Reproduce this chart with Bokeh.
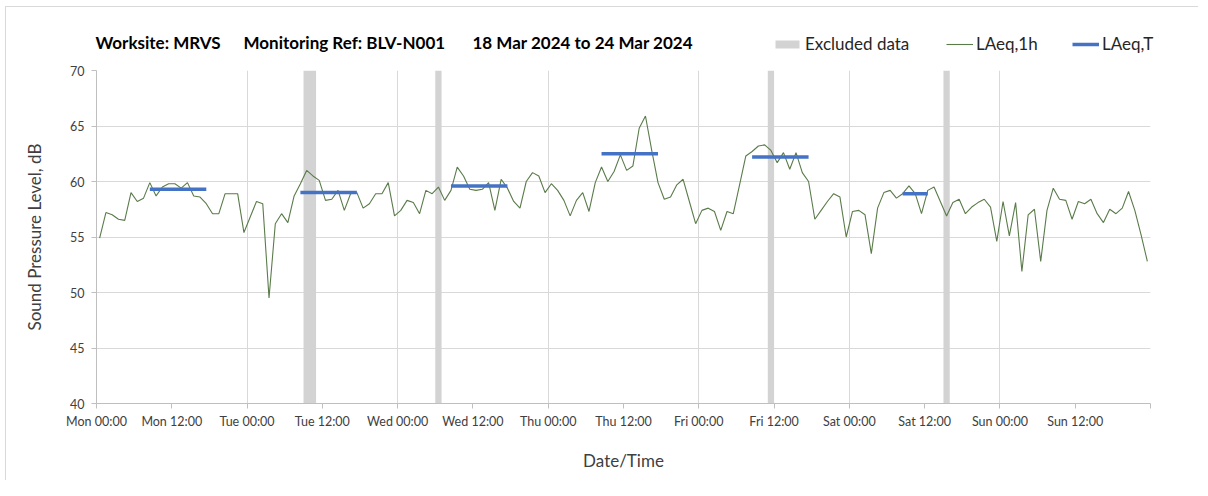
from bokeh.plotting import figure
from bokeh.layouts import column
from bokeh.models import ColumnDataSource, Range1d, FixedTicker, Legend, LegendItem, Label
from bokeh.embed import file_html
from bokeh.resources import INLINE

# ---------------- data ----------------
x_tick_hours = [0, 12, 24, 36, 48, 60, 72, 84, 96, 108, 120, 132, 144, 156, 168]
x_tick_labels = ["Mon 00:00", "Mon 12:00", "Tue 00:00", "Tue 12:00", "Wed 00:00", "Wed 12:00",
                 "Thu 00:00", "Thu 12:00", "Fri 00:00", "Fri 12:00", "Sat 00:00", "Sat 12:00",
                 "Sun 00:00", "Sun 12:00", ""]
day_grid_hours = [24, 48, 72, 96, 120, 144, 168]
y_ticks = [40, 45, 50, 55, 60, 65, 70]

# hourly LAeq,1h (hour 0 = Mon 00:00)
laeq_1h = [
    54.9, 57.2, 57.0, 56.6, 56.5, 59.0, 58.2, 58.5, 59.9, 58.7, 59.5, 59.8,
    59.8, 59.4, 59.9, 58.7, 58.6, 58.0, 57.1, 57.1, 58.9, 58.9, 58.9, 55.4,
    56.8, 58.2, 58.0, 49.5, 56.2, 57.1, 56.3, 58.7, 59.8, 61.0, 60.5, 60.1,
    58.3, 58.4, 59.2, 57.4, 58.9, 59.0, 57.6, 58.0, 58.9, 58.9, 59.9, 56.9,
    57.4, 58.3, 58.1, 57.1, 59.2, 58.9, 59.5, 58.3, 59.2, 61.3, 60.5, 59.3,
    59.2, 59.3, 59.9, 57.4, 60.2, 59.4, 58.2, 57.6, 60.0, 60.8, 60.5, 59.0,
    59.8, 59.2, 58.3, 56.9, 58.3, 59.0, 57.3, 59.9, 61.3, 60.0, 60.9, 62.4,
    61.0, 61.4, 64.8, 65.9, 62.8, 59.9, 58.4, 58.6, 59.7, 60.2, 58.2, 56.2,
    57.4, 57.6, 57.3, 55.6, 57.3, 57.1, 59.7, 62.3, 62.7, 63.2, 63.3, 62.8,
    61.7, 62.6, 61.1, 62.6, 60.8, 60.0, 56.6, 57.4, 58.2, 58.9, 58.6, 55.0,
    57.3, 57.4, 57.0, 53.5, 57.6, 59.0, 59.2, 58.5, 58.9, 59.6, 58.9, 57.1,
    59.2, 59.5, 58.2, 56.9, 58.1, 58.4, 57.1, 57.7, 58.1, 58.4, 57.7, 54.6,
    58.2, 55.1, 58.1, 51.9, 57.0, 57.5, 52.8, 57.4, 59.4, 58.4, 58.3, 56.6,
    58.2, 58.0, 58.4, 57.1, 56.3, 57.5, 57.1, 57.6, 59.1, 57.4, 55.2, 52.8,
]
hours = list(range(len(laeq_1h)))

# LAeq,T assessment periods (start hour, end hour, level)
period_start = [8, 32, 56, 80, 104, 128]
period_end = [18, 42, 66, 90, 114, 133]
laeq_t = [59.3, 59.0, 59.6, 62.5, 62.2, 58.9]

# excluded data periods (start hour, end hour)
excl_start = [33, 54, 107, 135]
excl_end = [35, 55, 108, 136]

title_parts = ["Worksite: MRVS", "Monitoring Ref: BLV-N001", "18 Mar 2024 to 24 Mar 2024"]
legend_labels = ["Excluded data", "LAeq,1h", "LAeq,T"]

# ---------------- styling ----------------
FONT = "Lato"
GREEN = "#5A7B4A"
BLUE = "#4472C4"
GREY_BAND = "#D3D3D3"
GRID = "#D9D9D9"
AXIS = "#BFBFBF"
TXT = "#404040"
W = 1192
HEADER_H = 55

# ---------------- main plot ----------------
p = figure(width=W, height=418,
           x_range=Range1d(0, 168), y_range=Range1d(40, 70),
           output_backend="svg", toolbar_location=None,
           min_border_left=90, min_border_right=48,
           min_border_top=8, min_border_bottom=77)
p.outline_line_color = None
p.background_fill_color = "white"
p.border_fill_color = "white"

line_src = ColumnDataSource(dict(t=[h + 0.5 for h in hours], v=laeq_1h))
excl_src = ColumnDataSource(dict(l=excl_start, r=excl_end,
                                 b=[40] * len(excl_start), tp=[70] * len(excl_start)))
per_src = ColumnDataSource(dict(x0=[s + 0.5 for s in period_start],
                                x1=[e - 0.5 for e in period_end], v=laeq_t))

p.quad(left="l", right="r", bottom="b", top="tp", source=excl_src,
       fill_color=GREY_BAND, line_color=None)
p.line("t", "v", source=line_src, line_color=GREEN, line_width=1.1)
p.segment(x0="x0", y0="v", x1="x1", y1="v", source=per_src,
          line_color=BLUE, line_width=3.5)

xa = p.xaxis[0]
xa.ticker = FixedTicker(ticks=x_tick_hours)
xa.major_label_overrides = {h: lab for h, lab in zip(x_tick_hours, x_tick_labels)}
xa.axis_label = "Date/Time"
ya = p.yaxis[0]
ya.ticker = FixedTicker(ticks=y_ticks)
ya.axis_label = "Sound Pressure Level, dB"
for ax in (xa, ya):
    ax.axis_line_color = AXIS
    ax.major_tick_line_color = AXIS
    ax.minor_tick_line_color = None
    ax.major_tick_out = 5
    ax.major_tick_in = 0
    ax.major_label_text_font = FONT
    ax.major_label_text_font_size = "12.5px"
    ax.major_label_text_color = TXT
    ax.axis_label_text_font = FONT
    ax.axis_label_text_font_size = "17px"
    ax.axis_label_text_font_style = "normal"
    ax.axis_label_text_color = TXT
xa.major_label_standoff = 5
xa.axis_label_standoff = 18
ya.major_label_standoff = 7
ya.axis_label_standoff = 22

p.xgrid.ticker = FixedTicker(ticks=day_grid_hours)
p.xgrid.grid_line_color = GRID
p.ygrid.grid_line_color = GRID

# ---------------- header (title + legend) ----------------
h = figure(width=W, height=HEADER_H, x_range=Range1d(0, W), y_range=Range1d(0, HEADER_H),
           x_axis_type=None, y_axis_type=None, output_backend="svg",
           toolbar_location=None, min_border=0)
h.frame_align = False
h.outline_line_color = None

title_x = [89, 237, 466]
for txt, tx in zip(title_parts, title_x):
    h.add_layout(Label(x=tx, y=20, text=txt, text_font=FONT, text_font_size="17px",
                       text_font_style="bold", text_color="#000000",
                       text_baseline="middle", text_align="left"))

# legend key renderers (their data lies outside the visible header range)
k_excl = h.quad(left=[-20], right=[-10], bottom=[-20], top=[-10],
                fill_color=GREY_BAND, line_color=None)
k_line = h.line(x=[-20, -10], y=[-20, -20], line_color=GREEN, line_width=1.1)
k_per = h.segment(x0=[-20], y0=[-20], x1=[-10], y1=[-20], line_color=BLUE, line_width=3.5)

legend_x = [766, 940, 1066]
legend_gw = [30, 27, 27]
legend_gh = [10, 20, 20]
for lab, rend, lx, gw, gh in zip(legend_labels, [k_excl, k_line, k_per],
                                 legend_x, legend_gw, legend_gh):
    lg = Legend(items=[LegendItem(label=lab, renderers=[rend])],
                location=(lx, 8), orientation="horizontal",
                glyph_width=gw, glyph_height=gh, label_height=20,
                label_standoff=3, padding=0, margin=0, spacing=0,
                border_line_color=None, background_fill_alpha=0,
                label_text_font=FONT, label_text_font_size="17px",
                label_text_color="#262626")
    h.add_layout(lg, "center")

layout = column(h, p, spacing=0,
                styles={"border-left": "1px solid #D9D9D9", "border-top": "1px solid #D9D9D9",
                        "margin-left": "5px", "margin-top": "6px"})

open("out.html", "w").write(file_html(layout, INLINE))
